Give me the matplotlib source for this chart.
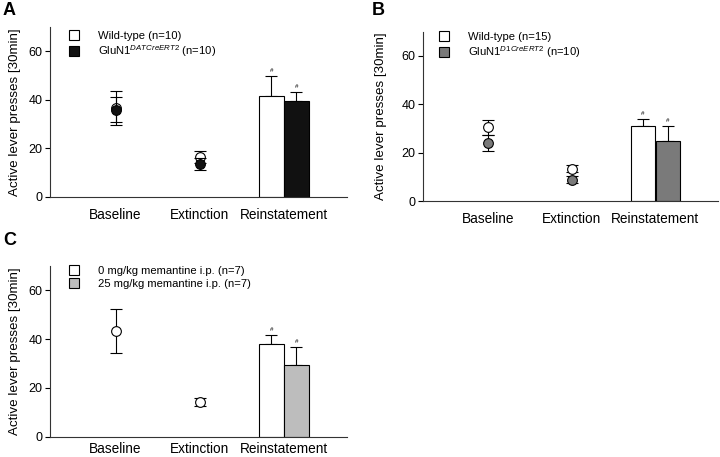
import matplotlib
matplotlib.use('Agg')
import matplotlib.pyplot as plt
from matplotlib.lines import Line2D

plt.rcParams['font.family'] = ['Liberation Sans', 'DejaVu Sans']
plt.rcParams['mathtext.fontset'] = 'custom'
plt.rcParams['mathtext.rm'] = 'Liberation Sans'
plt.rcParams['mathtext.it'] = 'Liberation Sans:italic'

# Data
categories = ['Baseline', 'Extinction', 'Reinstatement']

# Panel A
a_wt_mean = [36.5, 16.4, 41.5]
a_wt_err = [7.0, 2.4, 8.5]
a_ko_mean = [36.0, 13.5, 39.5]
a_ko_err = [5.0, 2.5, 3.8]
a_labels = ['Wild-type (n=10)', 'GluN1$^{DATCreERT2}$ (n=10)']

# Panel B
b_wt_mean = [30.6, 13.5, 31.0]
b_wt_err = [3.1, 1.5, 3.0]
b_ko_mean = [24.0, 9.0, 24.8]
b_ko_err = [3.2, 1.3, 6.2]
b_labels = ['Wild-type (n=15)', 'GluN1$^{D1CreERT2}$ (n=10)']

# Panel C (baseline and extinction pooled, one group)
c_pre_mean = [43.2, 14.2]
c_pre_err = [9.0, 1.8]
c_veh_mean = 37.9
c_veh_err = 3.8
c_mem_mean = 29.2
c_mem_err = 7.6
c_labels = ['0 mg/kg memantine i.p. (n=7)', '25 mg/kg memantine i.p. (n=7)']

fig = plt.figure(figsize=(7.2, 4.57), dpi=100)


def style_axis(ax, xpad=8, ylabelpad=5):
    ax.set_xlim(0.22, 3.75)
    ax.set_ylim(0, 70)
    ax.set_yticks([0, 20, 40, 60])
    ax.set_xticks([1, 2, 3])
    ax.set_xticklabels(categories, fontsize=9.8)
    ax.tick_params(axis='x', length=0, pad=xpad)
    ax.tick_params(axis='y', length=3.5, labelsize=9, pad=2)
    for s in ['top', 'right']:
        ax.spines[s].set_visible(False)
    for s in ['left', 'bottom']:
        ax.spines[s].set_linewidth(0.8)
        ax.spines[s].set_color('#333333')
    ax.set_ylabel('Active lever presses [30min]', fontsize=9.6, labelpad=ylabelpad)


def add_legend(ax, labels, colors, anchor):
    handles = [Line2D([], [], linestyle='none', marker='s', markersize=7.5,
                      markerfacecolor=c, markeredgecolor='black', markeredgewidth=0.8)
               for c in colors]
    ax.legend(handles, labels, loc='upper left', bbox_to_anchor=anchor, frameon=False,
              fontsize=8.1, handlelength=1.0, handletextpad=1.65, labelspacing=0.25,
              borderpad=0)


def draw_bars(ax, means, errs, colors):
    xs = [3 - 0.148, 3 + 0.148]
    ax.bar(xs, means, width=0.29, color=colors, edgecolor='black', linewidth=0.8, zorder=2)
    ax.errorbar(xs, means, yerr=[[0, 0], errs], fmt='none', ecolor='black',
                elinewidth=0.8, capsize=4, capthick=0.8, zorder=1)
    for x, m, e in zip(xs, means, errs):
        ax.text(x, m + e + 1.2, '#', ha='center', va='bottom', fontsize=4.5)


def draw_points(ax, xs, means, errs, face, z):
    ax.errorbar(xs, means, yerr=errs, fmt='o', markersize=7, markerfacecolor=face,
                markeredgecolor='black', markeredgewidth=0.8, ecolor='black',
                elinewidth=0.8, capsize=4, capthick=0.8, zorder=z)


# Panel A
axA = fig.add_axes([0.0694, 0.569, 0.4125, 0.372])
draw_points(axA, [1, 2], a_wt_mean[:2], a_wt_err[:2], 'white', 3)
draw_points(axA, [1, 2], a_ko_mean[:2], a_ko_err[:2], '#111111', 4)
draw_bars(axA, [a_wt_mean[2], a_ko_mean[2]], [a_wt_err[2], a_ko_err[2]], ['white', '#111111'])
style_axis(axA)
add_legend(axA, a_labels, ['white', '#111111'], (0.044, 1.012))

# Panel B
axB = fig.add_axes([0.5875, 0.5595, 0.4097, 0.371])
draw_points(axB, [1, 2], b_wt_mean[:2], b_wt_err[:2], 'white', 3)
draw_points(axB, [1, 2], b_ko_mean[:2], b_ko_err[:2], '#7a7a7a', 4)
draw_bars(axB, [b_wt_mean[2], b_ko_mean[2]], [b_wt_err[2], b_ko_err[2]], ['white', '#7a7a7a'])
style_axis(axB, ylabelpad=10)
add_legend(axB, b_labels, ['white', '#7a7a7a'], (0.034, 1.034))

# Panel C
axC = fig.add_axes([0.0694, 0.0444, 0.4125, 0.374])
draw_points(axC, [1, 2], c_pre_mean, c_pre_err, 'white', 3)
draw_bars(axC, [c_veh_mean, c_mem_mean], [c_veh_err, c_mem_err], ['white', '#bdbdbd'])
style_axis(axC, xpad=4)
add_legend(axC, c_labels, ['white', '#bdbdbd'], (0.044, 1.03))

fig.text(0.004, 0.995, 'A', fontsize=13, fontweight='bold', va='top')
fig.text(0.517, 0.995, 'B', fontsize=13, fontweight='bold', va='top')
fig.text(0.004, 0.492, 'C', fontsize=13, fontweight='bold', va='top')

fig.savefig('out.png', dpi=100)
